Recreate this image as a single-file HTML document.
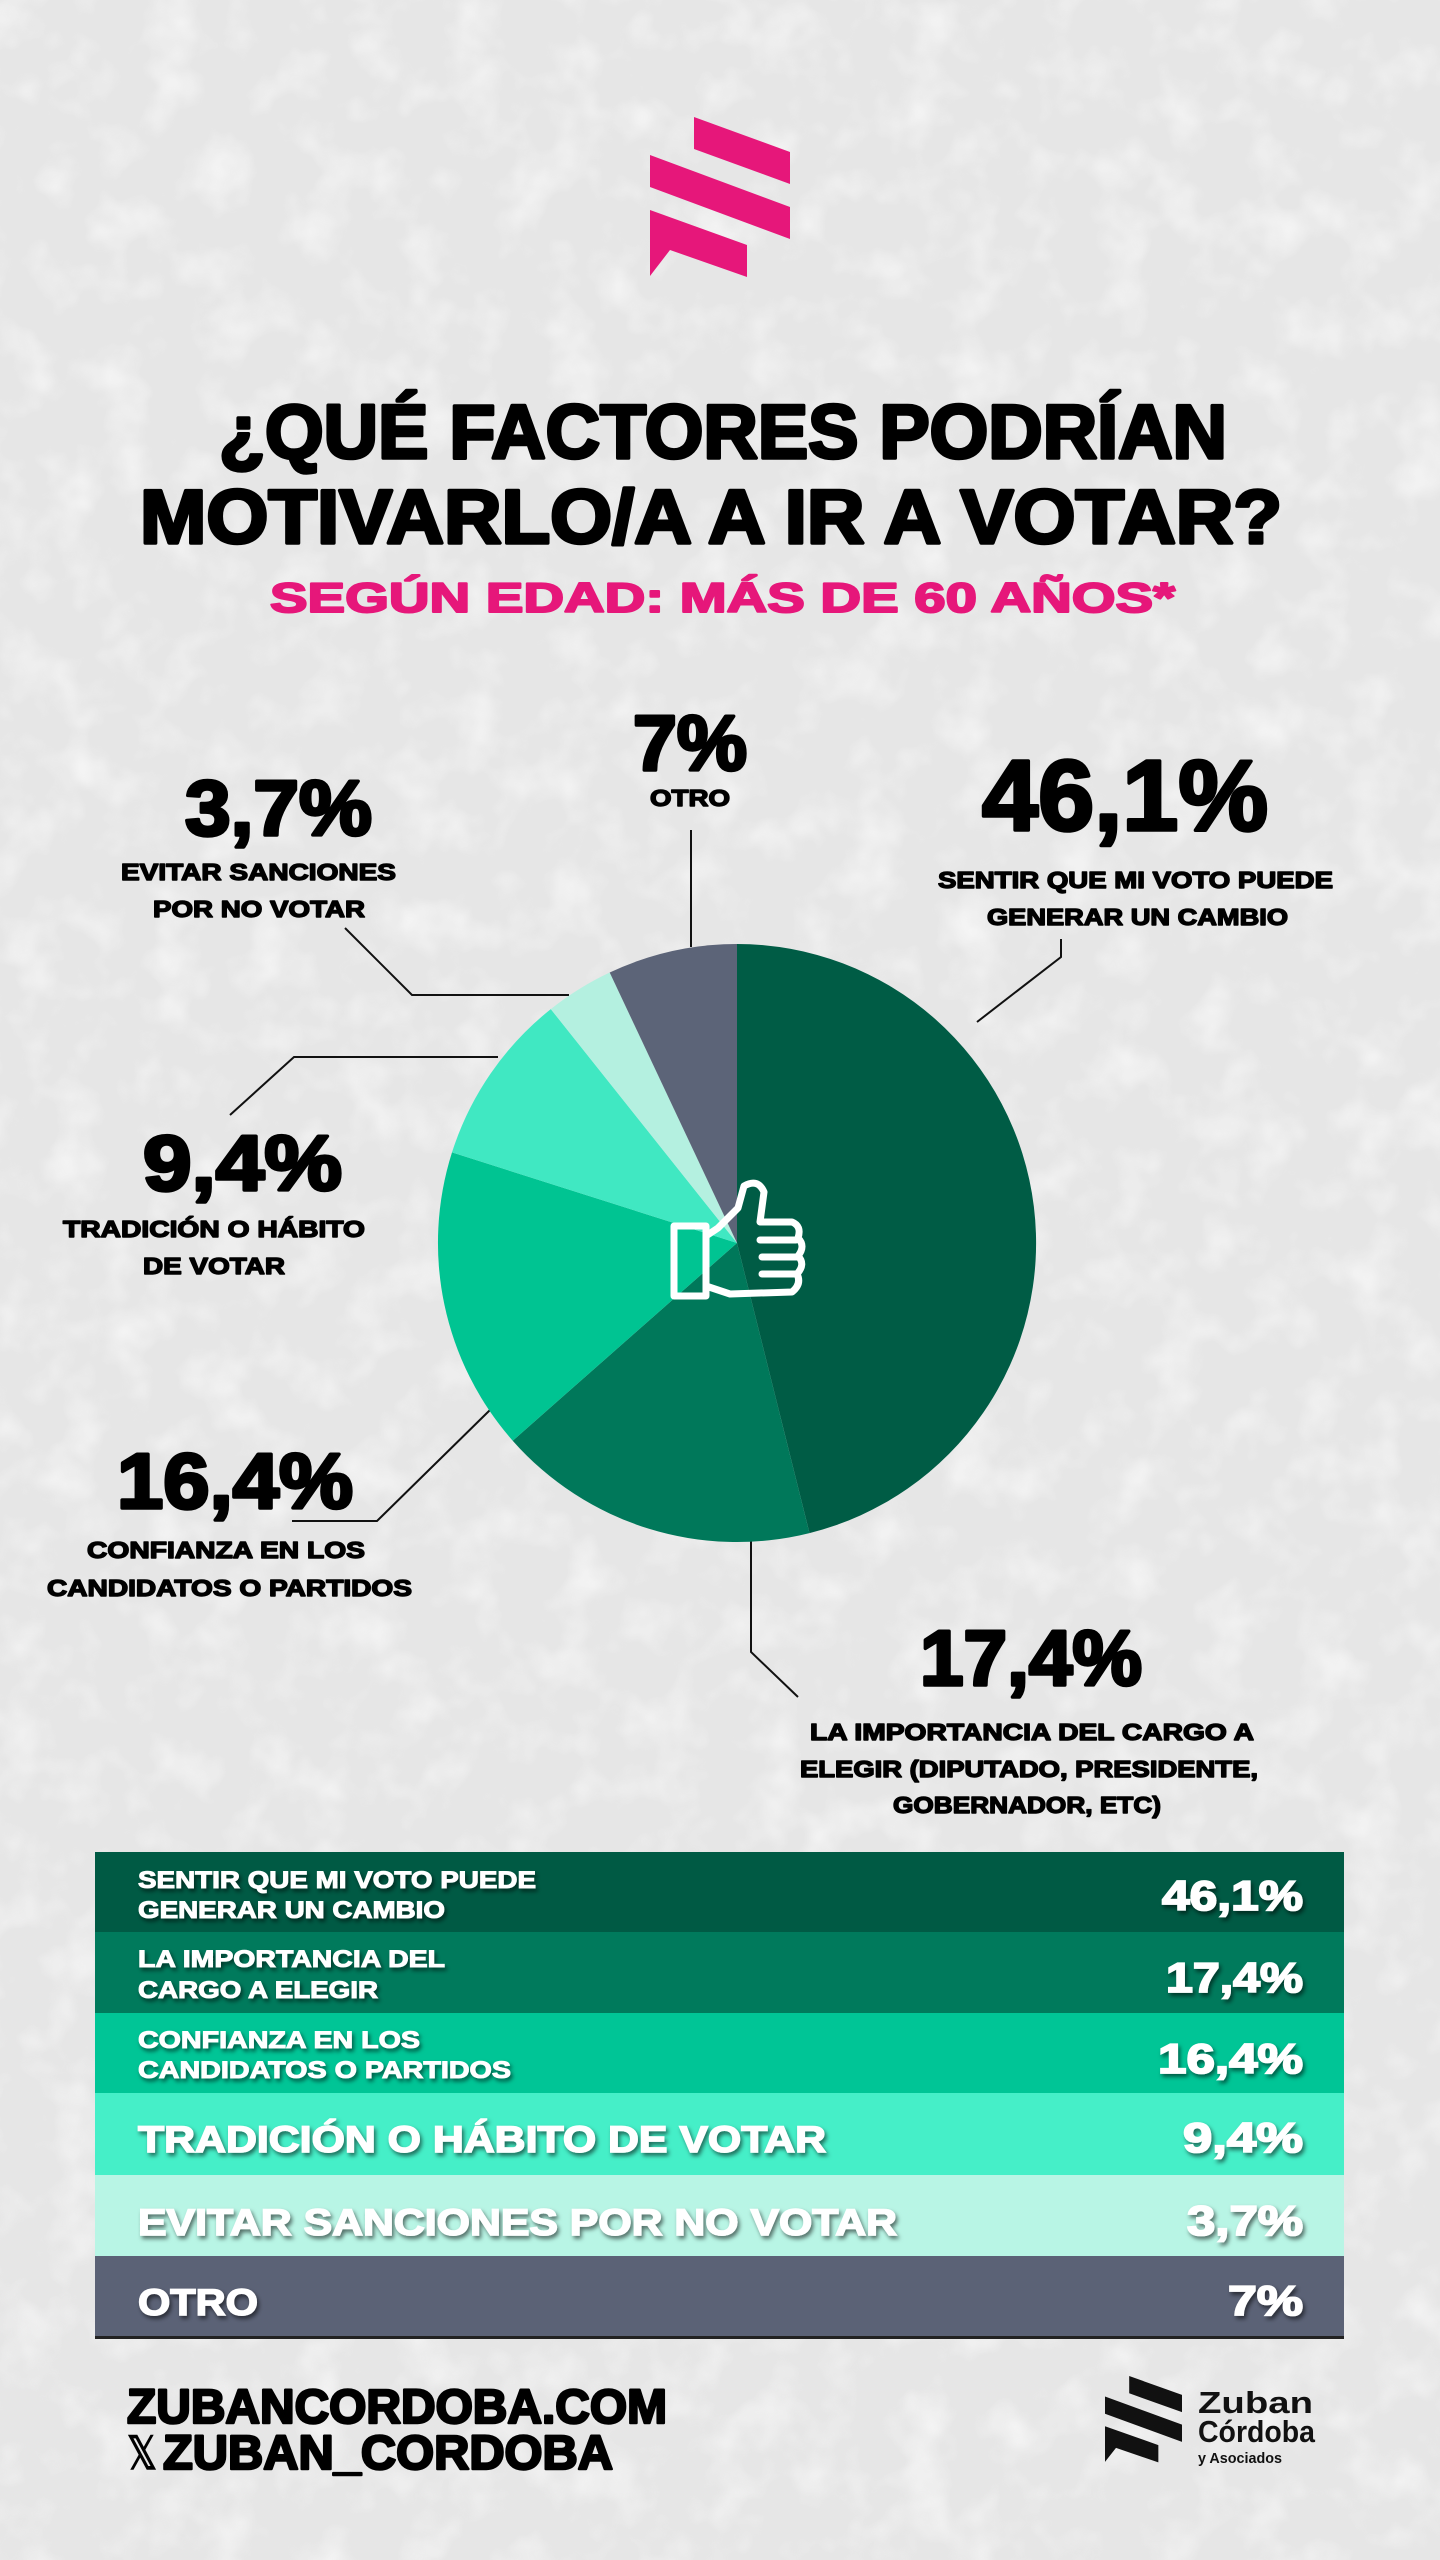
<!DOCTYPE html>
<html><head><meta charset="utf-8"><style>
html,body{margin:0;padding:0;background:#ececec}
svg{display:block}
text{font-family:"Liberation Sans",Arial,sans-serif;font-weight:bold}
</style></head><body>
<svg width="1440" height="2560" viewBox="0 0 1440 2560" xmlns="http://www.w3.org/2000/svg">
<defs>
<filter id="tex" x="0" y="0" width="100%" height="100%">
<feTurbulence type="fractalNoise" baseFrequency="0.02" numOctaves="3" seed="4"/>
<feColorMatrix type="matrix" values="0 0 0 0 1  0 0 0 0 1  0 0 0 0 1  1.6 0 0 0 -0.75"/>
</filter>
<filter id="sh" x="-5%" y="-20%" width="110%" height="160%">
<feDropShadow dx="2" dy="3" stdDeviation="2" flood-color="#000" flood-opacity="0.55"/>
</filter>
<g id="logo">
<polygon points="694,117 790,152 790,184 694,149"/>
<polygon points="650,155 790,207 790,239 650,187"/>
<polygon points="650,210 747,245 747,277 670,250 650,276"/>
</g>
</defs>
<rect width="1440" height="2560" fill="#e6e6e6"/>
<rect width="1440" height="2560" filter="url(#tex)" opacity="0.8"/>

<use href="#logo" fill="#e6177a"/>

<text x="219" y="458" font-size="76" textLength="1008" lengthAdjust="spacingAndGlyphs" fill="#000" stroke="#000" stroke-width="3.5" stroke-linejoin="round">¿QUÉ FACTORES PODRÍAN</text>
<text x="140" y="543" font-size="76" textLength="1142" lengthAdjust="spacingAndGlyphs" fill="#000" stroke="#000" stroke-width="3.5" stroke-linejoin="round">MOTIVARLO/A A IR A VOTAR?</text>
<text x="270" y="612" font-size="42" textLength="905" lengthAdjust="spacingAndGlyphs" fill="#e6177a" stroke="#e6177a" stroke-width="2" stroke-linejoin="round">SEGÚN EDAD: MÁS DE 60 AÑOS*</text>

<g stroke="#111" stroke-width="2" fill="none">
<polyline points="691,830 691,947"/>
<polyline points="1061,939 1061,957 977,1022"/>
<polyline points="345,928 412,995 569,995"/>
<polyline points="498,1057 294,1057 230,1115"/>
<polyline points="292,1521 377,1521 490,1410"/>
<polyline points="751,1535 751,1652 798,1697"/>
</g>

<path d="M737,1243 L737,944 A299,299 0 0 1 809.5,1533.1 Z" fill="#005c45"/>
<path d="M737,1243 L809.5,1533.1 A299,299 0 0 1 512.7,1440.7 Z" fill="#00785a"/>
<path d="M737,1243 L512.7,1440.7 A299,299 0 0 1 452,1152.4 Z" fill="#00c492"/>
<path d="M737,1243 L452,1152.4 A299,299 0 0 1 550.8,1009.1 Z" fill="#40e8c2"/>
<path d="M737,1243 L550.8,1009.1 A299,299 0 0 1 609.7,972.5 Z" fill="#b4f0e0"/>
<path d="M737,1243 L609.7,972.5 A299,299 0 0 1 737,944 Z" fill="#5c6478"/>

<g fill="none" stroke="#fff" stroke-width="7" stroke-linejoin="round" stroke-linecap="round">
<rect x="674" y="1226" width="32" height="70"/>
<path d="M706,1236 L718,1228 L738,1208 L744,1186 Q758,1178 764,1192 L760,1222 L792,1222 Q802,1226 798,1238 Q806,1246 798,1256 Q806,1264 797,1274 Q802,1284 792,1292 L730,1294 L706,1286"/>
<path d="M760,1240 L796,1240 M762,1257 L797,1257 M762,1274 L795,1274"/>
</g>

<g fill="#000" stroke="#000" stroke-width="3.5" stroke-linejoin="round">
<text x="633" y="770" font-size="78" textLength="114" lengthAdjust="spacingAndGlyphs">7%</text>
<text x="982" y="830" font-size="100" textLength="286" lengthAdjust="spacingAndGlyphs">46,1%</text>
<text x="185" y="835" font-size="78" textLength="187" lengthAdjust="spacingAndGlyphs">3,7%</text>
<text x="143" y="1190" font-size="78" textLength="199" lengthAdjust="spacingAndGlyphs">9,4%</text>
<text x="117" y="1508" font-size="78" textLength="236" lengthAdjust="spacingAndGlyphs">16,4%</text>
<text x="920" y="1685" font-size="78" textLength="222" lengthAdjust="spacingAndGlyphs">17,4%</text>
</g>
<g fill="#000" stroke="#000" stroke-width="1.4" stroke-linejoin="round">
<text x="650" y="806" font-size="23" textLength="80" lengthAdjust="spacingAndGlyphs">OTRO</text>
<text x="938" y="888" font-size="23" textLength="395" lengthAdjust="spacingAndGlyphs">SENTIR QUE MI VOTO PUEDE</text>
<text x="987" y="925" font-size="23" textLength="301" lengthAdjust="spacingAndGlyphs">GENERAR UN CAMBIO</text>
<text x="121" y="880" font-size="23" textLength="275" lengthAdjust="spacingAndGlyphs">EVITAR SANCIONES</text>
<text x="153" y="917" font-size="23" textLength="212" lengthAdjust="spacingAndGlyphs">POR NO VOTAR</text>
<text x="63" y="1237" font-size="23" textLength="302" lengthAdjust="spacingAndGlyphs">TRADICIÓN O HÁBITO</text>
<text x="143" y="1274" font-size="23" textLength="142" lengthAdjust="spacingAndGlyphs">DE VOTAR</text>
<text x="87" y="1558" font-size="23" textLength="278" lengthAdjust="spacingAndGlyphs">CONFIANZA EN LOS</text>
<text x="47" y="1596" font-size="23" textLength="365" lengthAdjust="spacingAndGlyphs">CANDIDATOS O PARTIDOS</text>
<text x="810" y="1740" font-size="23" textLength="444" lengthAdjust="spacingAndGlyphs">LA IMPORTANCIA DEL CARGO A</text>
<text x="800" y="1777" font-size="23" textLength="458" lengthAdjust="spacingAndGlyphs">ELEGIR (DIPUTADO, PRESIDENTE,</text>
<text x="893" y="1813" font-size="23" textLength="268" lengthAdjust="spacingAndGlyphs">GOBERNADOR, ETC)</text>
</g>

<rect x="95" y="1852" width="1249" height="81" fill="#005a44"/>
<rect x="95" y="1932" width="1249" height="82" fill="#007a5c"/>
<rect x="95" y="2013" width="1249" height="81" fill="#00c596"/>
<rect x="95" y="2093" width="1249" height="83" fill="#45efc8"/>
<rect x="95" y="2175" width="1249" height="82" fill="#b8f5e5"/>
<rect x="95" y="2256" width="1249" height="82" fill="#5b6276"/>
<rect x="95" y="2336" width="1249" height="3" fill="#222"/>
<g fill="#fff" stroke="#fff" stroke-width="1" filter="url(#sh)">
<text x="138" y="1888" font-size="24" textLength="398" lengthAdjust="spacingAndGlyphs">SENTIR QUE MI VOTO PUEDE</text>
<text x="138" y="1918" font-size="24" textLength="307" lengthAdjust="spacingAndGlyphs">GENERAR UN CAMBIO</text>
<text x="1162" y="1910" font-size="42" textLength="141" lengthAdjust="spacingAndGlyphs" stroke-width="1.8">46,1%</text>
<text x="138" y="1967" font-size="24" textLength="307" lengthAdjust="spacingAndGlyphs">LA IMPORTANCIA DEL</text>
<text x="138" y="1998" font-size="24" textLength="240" lengthAdjust="spacingAndGlyphs">CARGO A ELEGIR</text>
<text x="1166" y="1992" font-size="42" textLength="137" lengthAdjust="spacingAndGlyphs" stroke-width="1.8">17,4%</text>
<text x="138" y="2048" font-size="24" textLength="282" lengthAdjust="spacingAndGlyphs">CONFIANZA EN LOS</text>
<text x="138" y="2078" font-size="24" textLength="373" lengthAdjust="spacingAndGlyphs">CANDIDATOS O PARTIDOS</text>
<text x="1158" y="2073" font-size="42" textLength="145" lengthAdjust="spacingAndGlyphs" stroke-width="1.8">16,4%</text>
<text x="138" y="2152" font-size="37" textLength="688" lengthAdjust="spacingAndGlyphs" stroke-width="1.5">TRADICIÓN O HÁBITO DE VOTAR</text>
<text x="1183" y="2152" font-size="42" textLength="120" lengthAdjust="spacingAndGlyphs" stroke-width="1.8">9,4%</text>
<text x="138" y="2235" font-size="37" textLength="759" lengthAdjust="spacingAndGlyphs" stroke-width="1.5">EVITAR SANCIONES POR NO VOTAR</text>
<text x="1187" y="2235" font-size="42" textLength="116" lengthAdjust="spacingAndGlyphs" stroke-width="1.8">3,7%</text>
<text x="138" y="2315" font-size="37" textLength="120" lengthAdjust="spacingAndGlyphs" stroke-width="1.5">OTRO</text>
<text x="1228" y="2315" font-size="42" textLength="75" lengthAdjust="spacingAndGlyphs" stroke-width="1.8">7%</text>
</g>

<g fill="#000" stroke="#000" stroke-width="2.5" stroke-linejoin="round">
<text x="127" y="2423" font-size="48" textLength="540" lengthAdjust="spacingAndGlyphs">ZUBANCORDOBA.COM</text>
<text x="127" y="2469" font-size="46" textLength="30" lengthAdjust="spacingAndGlyphs" stroke-width="0" font-weight="normal">𝕏</text>
<text x="163" y="2469" font-size="48" textLength="450" lengthAdjust="spacingAndGlyphs">ZUBAN_CORDOBA</text>
</g>
<g transform="translate(1105,2376) scale(0.55,0.54) translate(-650,-117)" fill="#111"><use href="#logo"/></g>
<g fill="#111">
<text x="1198" y="2413" font-size="31" textLength="115" lengthAdjust="spacingAndGlyphs">Zuban</text>
<text x="1198" y="2442" font-size="31" textLength="117" lengthAdjust="spacingAndGlyphs">Córdoba</text>
<text x="1198" y="2463" font-size="15" font-weight="normal" textLength="84" lengthAdjust="spacingAndGlyphs">y Asociados</text>
</g>
</svg>
</body></html>
